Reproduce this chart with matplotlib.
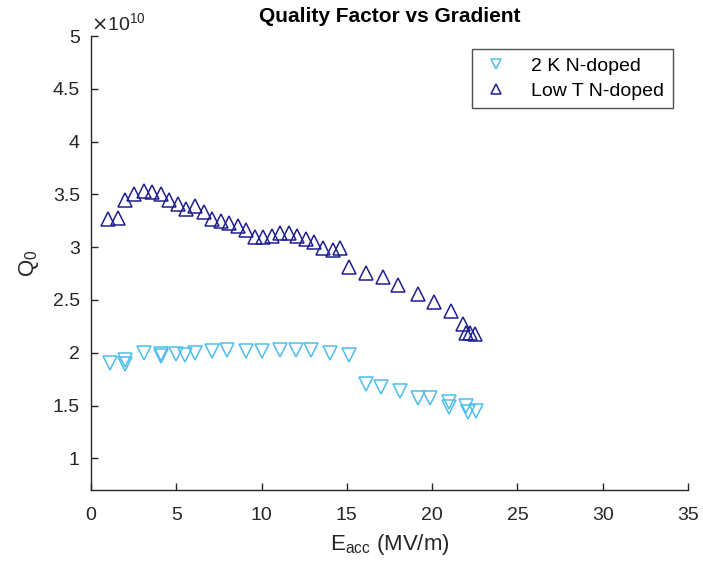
import matplotlib
matplotlib.use('Agg')
import matplotlib.pyplot as plt
from matplotlib.ticker import FuncFormatter

plt.rcParams['font.family'] = ['Liberation Sans', 'DejaVu Sans']

# Q0 values are in units of 1e10
e_2k = [1.1, 2.0, 2.0, 3.1, 4.1, 4.1, 5.0, 5.5, 6.1, 7.1, 8.0, 9.1, 10.0, 11.1,
        12.0, 12.9, 14.0, 15.1, 16.1, 17.0, 18.1, 19.2, 19.9, 21.0, 21.0, 22.0,
        22.1, 22.6]
q_2k = [1.90, 1.93, 1.89, 2.00, 1.97, 1.99, 1.99, 1.98, 2.00, 2.02, 2.03, 2.02,
        2.02, 2.03, 2.03, 2.03, 2.00, 1.98, 1.70, 1.68, 1.64, 1.57, 1.57, 1.53,
        1.49, 1.50, 1.44, 1.45]

e_lowt = [1.0, 1.6, 2.0, 2.5, 3.1, 3.6, 4.1, 4.6, 5.1, 5.6, 6.1, 6.6, 7.1, 7.6,
          8.1, 8.6, 9.1, 9.6, 10.1, 10.6, 11.1, 11.6, 12.1, 12.6, 13.1, 13.6,
          14.2, 14.6, 15.1, 16.1, 17.1, 18.0, 19.2, 20.1, 21.1, 21.8, 22.0, 22.2,
          22.5]
q_lowt = [3.27, 3.28, 3.45, 3.50, 3.53, 3.52, 3.50, 3.45, 3.41, 3.36, 3.39, 3.33,
          3.27, 3.25, 3.23, 3.20, 3.16, 3.10, 3.10, 3.11, 3.13, 3.13, 3.11, 3.08,
          3.05, 2.99, 2.97, 2.99, 2.81, 2.76, 2.72, 2.64, 2.56, 2.48, 2.40, 2.27,
          2.19, 2.19, 2.18]

x_ticks = [0, 5, 10, 15, 20, 25, 30, 35]
y_ticks = [1, 1.5, 2, 2.5, 3, 3.5, 4, 4.5, 5]

axis_color = '#262626'

fig = plt.figure(figsize=(7.03, 5.68), dpi=100)
ax = fig.add_axes([0.1294, 0.1373, 0.8493, 0.7993])

ax.plot(e_2k, q_2k, linestyle='none', marker='v', markersize=10,
        markerfacecolor='none', markeredgecolor='#4DBEEE', markeredgewidth=1.1,
        label='2 K N-doped')
ax.plot(e_lowt, q_lowt, linestyle='none', marker='^', markersize=10,
        markerfacecolor='none', markeredgecolor='#1f1f8f', markeredgewidth=1.1,
        label='Low T N-doped')

ax.set_xlim(0, 35)
ax.set_ylim(0.7, 5)
ax.set_xticks(x_ticks)
ax.set_yticks(y_ticks)
ax.yaxis.set_major_formatter(FuncFormatter(lambda v, p: f'{v:g}'))

for side in ['top', 'right']:
    ax.spines[side].set_visible(False)
for side in ['left', 'bottom']:
    ax.spines[side].set_color(axis_color)
    ax.spines[side].set_linewidth(1.0)
ax.tick_params(direction='in', length=5, width=1.0, colors=axis_color,
               labelsize=14)
ax.tick_params(axis='x', pad=12)
ax.tick_params(axis='y', pad=8)

ax.set_title('Quality Factor vs Gradient', fontsize=15, fontweight='bold',
             color='black', pad=10)
ax.set_xlabel('E$_{\\mathregular{acc}}$ (MV/m)', fontsize=16, color=axis_color,
              labelpad=6)
ax.set_ylabel('Q$_{\\mathregular{0}}$', fontsize=16, color=axis_color,
              labelpad=8)
ax.text(0.0, 1.005, '$\\times\\mathregular{10^{10}}$', transform=ax.transAxes,
        fontsize=14, color=axis_color, ha='left', va='bottom')

leg = ax.legend(loc='upper right', bbox_to_anchor=(0.975, 0.972), fontsize=14,
                frameon=True, fancybox=False, edgecolor=axis_color,
                handlelength=1.6, handletextpad=1.0, borderpad=0.45,
                labelspacing=0.35, borderaxespad=0)
leg.get_frame().set_linewidth(1.0)
for h in leg.legend_handles:
    h.set_markersize(7)

fig.savefig('out.png', dpi=100)
